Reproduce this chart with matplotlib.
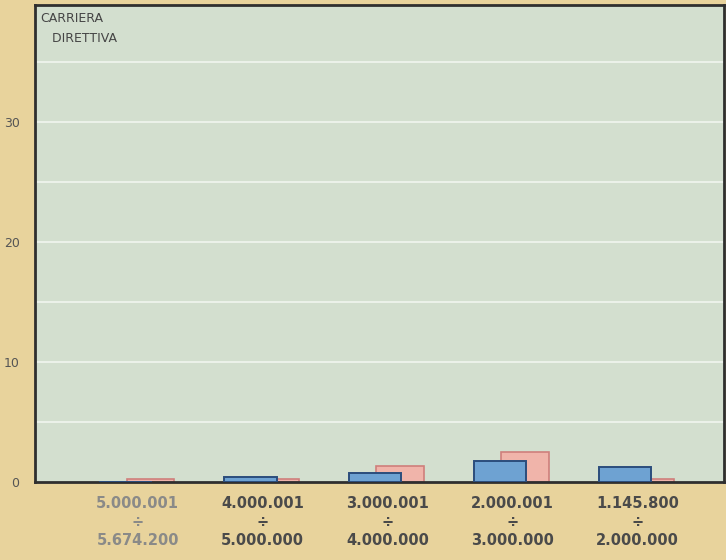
import numpy as np
import matplotlib
matplotlib.use("Agg")
import matplotlib.pyplot as plt

# income classes (lire) and values for the two series
classes = ["5.000.001\n÷\n5.674.200", "4.000.001\n÷\n5.000.000",
           "3.000.001\n÷\n4.000.000", "2.000.001\n÷\n3.000.000",
           "1.145.800\n÷\n2.000.000"]
blue_vals = [0.0, 0.4, 0.75, 1.75, 1.3]
pink_vals = [0.25, 0.3, 1.35, 2.55, 0.3]
yticks = [0, 10, 20, 30]

fig = plt.figure(figsize=(7.26, 5.6), dpi=100, facecolor="#e8d39c")
ax = fig.add_axes([0.048, 0.139, 0.949, 0.852])
ax.set_facecolor("#d3dfcf")

x = np.arange(len(classes))
# pink behind, blue in front
ax.bar(x + 0.1, pink_vals, width=0.38, color="#f0b4aa", edgecolor="#cf7f7c",
       linewidth=1.2, zorder=2)
ax.bar(x - 0.1, blue_vals, width=0.42, color="#6ea2d2", edgecolor="#2b4d7c",
       linewidth=1.4, zorder=3)

ax.set_ylim(0, 39.75)
ax.set_xlim(-0.824, 4.69)
for g in np.arange(5, 40, 5):
    ax.axhline(g, color="#eef3ec", lw=1.3, zorder=1)

ax.set_yticks(yticks)
ax.set_yticklabels([str(t) for t in yticks], color="#555555", fontsize=9)
ax.set_xticks(x)
ax.set_xticklabels(classes, fontsize=10.5, fontweight="bold", color="#4a4a4a",
                   linespacing=1.3)
ax.get_xticklabels()[0].set_color("#8a8a88")
ax.tick_params(length=0, pad=10)
ax.tick_params(axis="y", pad=11)

for s in ax.spines.values():
    s.set_color("#2f2f2f")
    s.set_linewidth(2)

ax.text(0.008, 0.985, "CARRIERA\n   DIRETTIVA", transform=ax.transAxes,
        ha="left", va="top", fontsize=9, color="#454545", linespacing=1.7)

fig.savefig("out.png", dpi=100, facecolor=fig.get_facecolor())
